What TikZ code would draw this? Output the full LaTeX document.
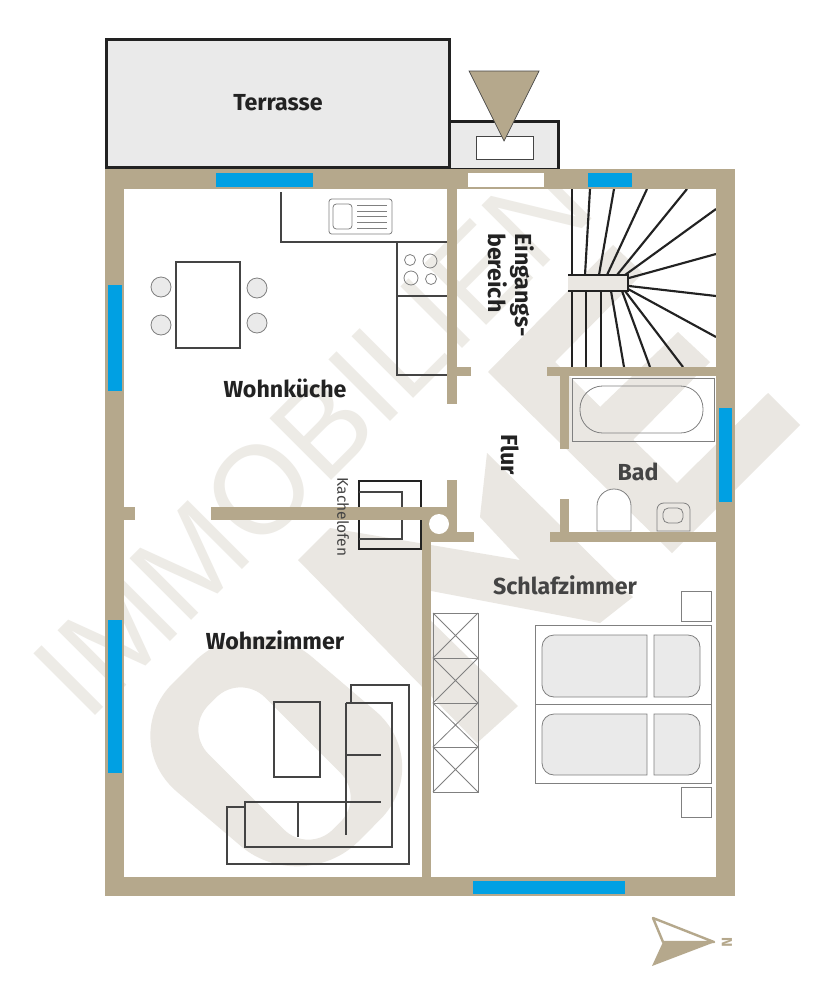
\documentclass[tikz,border=0pt]{standalone}
\usepackage{fontspec}
\setmainfont{Fira Sans}
\newfontfamily\wmfont{Liberation Sans}
\definecolor{wall}{HTML}{B5A88C}
\definecolor{wm}{HTML}{EAE7E2}
\definecolor{wmtext}{HTML}{EDEBE6}
\definecolor{win}{HTML}{00A0E3}
\definecolor{pale}{HTML}{EAEAEA}
\definecolor{ink}{HTML}{222222}
\definecolor{inkb}{HTML}{444444}
\definecolor{thin}{HTML}{808080}
\tikzset{
  wallrect/.style={fill=wall,draw=none},
  winrect/.style={fill=win,draw=none},
  dark/.style={draw=inkb,line width=0.95pt},
  fine/.style={draw=thin,line width=0.6pt},
  stair/.style={draw=ink,line width=1.6pt},
  room/.style={font=\bfseries\fontsize{17.4}{17.4}\selectfont,text=ink,inner sep=0pt},
  roomb/.style={room,text=inkb},
}
\begin{document}
\begin{tikzpicture}[x=0.75pt,y=-0.75pt]
\useasboundingbox (0,0) rectangle (833,1000);
\fill[white] (0,0) rectangle (833,1000);
% watermark
\node[rotate=45,inner sep=0pt,text=wmtext,font=\wmfont\fontsize{95}{95}\selectfont] (wmtxt) at (313,437) {\scalebox{0.97}[1]{IMMOBILIEN}};
\fill[wm,even odd rule]
  [rounded corners=60pt] (251,605) -- (116,740) -- (302,898) -- (436.5,763) -- cycle
  [rounded corners=26pt] (240.6,673) -- (184,729.6) -- (308.4,854) -- (365,797.4) -- cycle;
\fill[wm] (298,560) -- (330,528) -- (520,560) -- (480,517) -- (487,453) -- (633,597) -- (600,623) -- (426,590) -- (426,616) -- (518,706) -- (477,743) -- cycle;
\fill[wm] (488,372) -- (613,245) -- (643,273) -- (555,362) -- (677,483) -- (768,393) -- (800,425) -- (672,553) -- cycle;
\fill[wm] (600,407) -- (678,332) -- (710,362) -- (633,440) -- cycle;
% terrace and entrance
\draw[fill=pale,draw=ink!90!black,line width=2.2pt] (450,121.5) -- (558.5,121.5) -- (558.5,169) -- (450,169) -- cycle;
\draw[fill=pale,draw=ink,line width=2.2pt] (106.5,39.5) rectangle (449.5,167.5);
\draw[fill=white,draw=inkb,line width=0.7pt] (476,136) rectangle (533,159);
\draw[fill=wall,draw=inkb,line width=0.5pt] (469,71) -- (539,71) -- (504,141) -- cycle;
% furniture: kitchen
\draw[dark] (281,192) -- (281,242) -- (447,242);
\draw[dark] (397,242) -- (397,375) -- (447,375);
\draw[dark] (397,296) -- (447,296);
\draw[fine,rounded corners=2pt] (329,199) rectangle (392,234);
\draw[fine,rounded corners=2.5pt] (333,204) rectangle (352,229);
\foreach \yy in {205,211,216,222,228} \draw[fine] (357,\yy) -- (387,\yy);
\draw[fine] (410,260) circle[radius=5.5];
\draw[fine] (430,261) circle[radius=7];
\draw[fine] (411,278) circle[radius=7];
\draw[fine] (431,279) circle[radius=5.5];
\draw[dark,fill=white] (176,262) rectangle (240,348);
\foreach \xx/\yy in {161/287,161/325,257/288,257/323} \draw[fine,fill=pale] (\xx,\yy) circle[radius=10];
% stairs
\fill[wm] (568,275) rectangle (628,291);
\foreach \xa/\ya/\xb/\yb in {572/189/572/275,590/189/585/275,614/189/599/275,647/189/607/275,687/189/617/275,716/209/625/275,716/254/629/278,716/296/629/286,716/337/628/289,683/367/625/291,650/367/622/291,624/367/611/291,601/367/601/291,586/367/586/291,572/367/572/291}
  \draw[stair] (\xa,\ya) -- (\xb,\yb);
\draw[stair,line width=1.9pt] (568,275) -- (628,275) -- (628,291) -- (568,291);
% bath
\draw[fine] (572,378) rectangle (714,441);
\draw[fine,rounded corners=17pt] (580,386) rectangle (703,433);
\draw[fine,fill=white] (597,531) -- (597,506) arc[start angle=180,end angle=360,radius=17] -- (631,531) -- cycle;
\draw[fine] (657,531) -- (657,509) [rounded corners=5pt] -- (657,503) -- (690,503) [sharp corners] -- (690,531) -- cycle;
\draw[fine,rounded corners=4pt] (663,508) rectangle (683,523);
% stove
\draw[draw=ink,line width=2pt] (359,481) rectangle (421,549);
\draw[draw=inkb,line width=1pt] (359,492) -- (402,492) -- (402,539) -- (359,539);
% walls
\fill[wallrect] (105,169) rectangle (735,189);
\fill[wallrect] (105,877) rectangle (735,896);
\fill[wallrect] (105,169) rectangle (124,896);
\fill[wallrect] (716,169) rectangle (735,896);
\fill[wallrect] (447,189) rectangle (457,404);
\fill[wallrect] (447,367) rectangle (471,376);
\fill[wallrect] (447,480) rectangle (457,542);
\fill[wallrect] (422,532) rectangle (474,542);
\fill[wallrect] (422,507) rectangle (431,877);
\fill[wallrect] (211,507) rectangle (457,520);
\fill[wallrect] (124,507) rectangle (135,520);
\fill[wallrect] (431,520) rectangle (447,532);
\fill[white] (439,524) circle[radius=10];
\fill[wallrect] (547,367) rectangle (716,376);
\fill[wallrect] (560,376) rectangle (569,449);
\fill[wallrect] (560,499) rectangle (569,532);
\fill[wallrect] (550,532) rectangle (716,542);
% windows and door
\fill[winrect] (216,173) rectangle (313,187);
\fill[winrect] (588,173) rectangle (632,187);
\fill[white] (468,173) rectangle (544,187);
\fill[winrect] (108,285) rectangle (122,391);
\fill[winrect] (108,620) rectangle (122,773);
\fill[winrect] (719,408) rectangle (732,502);
\fill[winrect] (473,881) rectangle (625,894);
% furniture: living room
\draw[dark] (274,702) rectangle (320,777);
\draw[dark] (351,703) -- (351,685) -- (409,685) -- (409,864) -- (227,864) -- (227,807) -- (245,807);
\draw[dark] (346,703) -- (392,703) -- (392,847) -- (245,847) -- (245,802) -- (381,802);
\draw[dark] (346,703) -- (346,835);
\draw[dark] (346,755) -- (381,755);
\draw[dark] (298,802) -- (298,837);
% wardrobe
\foreach \ya/\yb in {613/658,658/703,703/747,747/792} {
  \draw[fine] (433,\ya) rectangle (478,\yb);
  \draw[fine] (433,\ya) -- (478,\yb) (478,\ya) -- (433,\yb);
}
% bed
\draw[fine,fill=white] (535,625) rectangle (711,783);
\draw[fine] (535,704) -- (711,704);
\foreach \ya/\yb in {635/697,714/775} {
  \draw[fine,fill=pale] (647,\ya) [rounded corners=9pt] -- (542,\ya) -- (542,\yb) [sharp corners] -- (647,\yb) -- cycle;
  \draw[fine,fill=pale] (654,\ya) [rounded corners=9pt] -- (700,\ya) -- (700,\yb) [sharp corners] -- (654,\yb) -- cycle;
}
\draw[fine,fill=white] (681,591) rectangle (711,621);
\draw[fine,fill=white] (681,787) rectangle (711,817);
% labels
\node[room] (terrasse) at (278,103) {Terrasse};
\node[room] (kueche) at (285,388) {Wohnküche};
\node[room] (wohnz) at (275,640) {Wohnzimmer};
\node[roomb] (schlaf) at (565,585) {Schlafzimmer};
\node[roomb] (bad) at (638,472) {Bad};
\node[room,rotate=-90] (flur) at (510,455) {Flur};
\node[room,rotate=-90,anchor=west,align=left] (eingang) at (511,233) {Eingangs-\\[1pt]bereich};
\node[rotate=-90,inner sep=0pt,text=inkb,font=\fontsize{11.6}{11.6}\selectfont] (ofen) at (343,517) {Kachelofen};
% compass
\draw[draw=wall,line width=1.8pt,fill=white,line join=round] (653,918) -- (714,942) -- (663,942) -- cycle;
\fill[wall] (652,966) -- (715,942) -- (663,942) -- cycle;
\node[rotate=-90,inner sep=0pt,text=wall,font=\bfseries\fontsize{11}{11}\selectfont] (north) at (727,942) {N};
\end{tikzpicture}
\end{document}
